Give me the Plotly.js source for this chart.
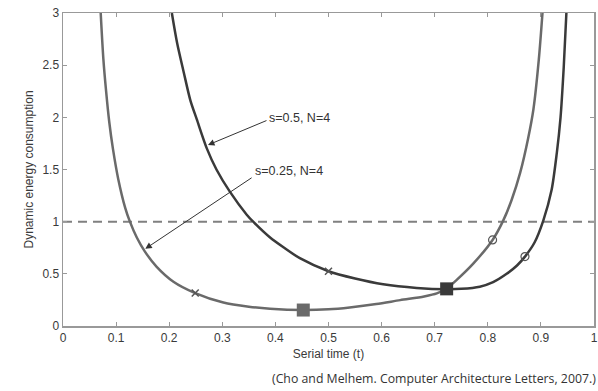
<!DOCTYPE html>
<html>
<head>
<meta charset="utf-8">
<script src="https://cdn.plot.ly/plotly-3.0.1.min.js"></script>
<style>html,body{margin:0;padding:0;background:#fff;}#chart{width:598px;height:391px;}</style>
</head>
<body>
<div id="chart"></div>
<script>
// Curve s=0.25, N=4 (lighter gray)
const tA = [0.071, 0.076, 0.081, 0.087, 0.094, 0.104, 0.117, 0.126, 0.139, 0.154, 0.176, 0.208, 0.249, 0.302, 0.35, 0.39, 0.4525, 0.50, 0.54, 0.59, 0.635, 0.68, 0.704, 0.7225, 0.741, 0.773, 0.809, 0.829, 0.845, 0.861, 0.876, 0.886, 0.896, 0.903];
const eA = [3.0, 2.56, 2.26, 1.96, 1.70, 1.41, 1.135, 1.0, 0.848, 0.715, 0.57, 0.425, 0.316, 0.225, 0.185, 0.165, 0.153, 0.16, 0.178, 0.21, 0.248, 0.283, 0.312, 0.36, 0.44, 0.60, 0.825, 1.01, 1.21, 1.47, 1.80, 2.08, 2.55, 3.0];
// Curve s=0.5, N=4 (dark)
const tB = [0.205, 0.215, 0.227, 0.24, 0.252, 0.271, 0.289, 0.3145, 0.346, 0.36, 0.39, 0.415, 0.446, 0.50, 0.55, 0.603, 0.666, 0.7225, 0.75, 0.785, 0.81, 0.8355, 0.855, 0.87, 0.888, 0.9045, 0.92, 0.93, 0.937, 0.943, 0.948];
const eB = [3.0, 2.71, 2.44, 2.16, 1.98, 1.70, 1.50, 1.285, 1.067, 0.99, 0.848, 0.755, 0.65, 0.525, 0.455, 0.40, 0.365, 0.352, 0.356, 0.377, 0.42, 0.50, 0.58, 0.665, 0.80, 1.01, 1.30, 1.66, 2.0, 2.48, 3.0];
// Marked points
const xMarkT = [0.249, 0.50], xMarkE = [0.316, 0.525];
const oMarkT = [0.809, 0.87], oMarkE = [0.825, 0.665];
const sqAT = [0.4525], sqAE = [0.153];
const sqBT = [0.7225], sqBE = [0.356];
const refT = [0, 1], refE = [1, 1];
const xTicks = [0, 0.1, 0.2, 0.3, 0.4, 0.5, 0.6, 0.7, 0.8, 0.9, 1];
const xTickText = ['0', '0.1', '0.2', '0.3', '0.4', '0.5', '0.6', '0.7', '0.8', '0.9', '1'];
const yTicks = [0, 0.5, 1, 1.5, 2, 2.5, 3];
const yTickText = ['0', '0.5', '1', '1.5', '2', '2.5', '3'];

const colA = '#6a6a6a', colB = '#3a3a3a';
const traces = [
  {x: refT, y: refE, mode: 'lines', line: {color: '#808080', width: 2, dash: '9px,6px'}, hoverinfo: 'skip'},
  {x: tA, y: eA, mode: 'lines', line: {color: colA, width: 2.5, shape: 'spline', smoothing: 0.8}},
  {x: tB, y: eB, mode: 'lines', line: {color: colB, width: 2.5, shape: 'spline', smoothing: 0.8}},
  {x: xMarkT, y: xMarkE, mode: 'markers', marker: {symbol: 'x-thin-open', size: 7, color: '#555', line: {color: '#555', width: 1.5}}},
  {x: oMarkT, y: oMarkE, mode: 'markers', marker: {symbol: 'circle-open', size: 8, color: '#555', line: {color: '#555', width: 1.2}}},
  {x: sqAT, y: sqAE, mode: 'markers', marker: {symbol: 'square', size: 13, color: colA}},
  {x: sqBT, y: sqBE, mode: 'markers', marker: {symbol: 'square', size: 13, color: colB}}
];

const layout = {
  width: 598, height: 391,
  margin: {l: 63, r: 4, t: 13, b: 65},
  paper_bgcolor: '#fff', plot_bgcolor: '#fff',
  showlegend: false,
  font: {family: 'Liberation Sans, Arial, sans-serif', size: 12, color: '#3a3a3a'},
  xaxis: {range: [0, 1], tickvals: xTicks, ticktext: xTickText, ticks: 'inside', ticklen: 4, tickcolor: '#999',
          showline: true, linecolor: '#999', linewidth: 1.5, mirror: 'ticks', showgrid: false, zeroline: false,
          title: {text: 'Serial time (t)', font: {size: 12}, standoff: 5}},
  yaxis: {range: [0, 3], tickvals: yTicks, ticktext: yTickText, ticks: 'inside', ticklen: 4, tickcolor: '#999',
          showline: true, linecolor: '#999', linewidth: 1.5, mirror: 'ticks', showgrid: false, zeroline: false,
          title: {text: 'Dynamic energy consumption', font: {size: 12}, standoff: 6}},
  annotations: [
    {x: 0.273, y: 1.735, ax: 0.386, ay: 1.975, xref: 'x', yref: 'y', axref: 'x', ayref: 'y', text: '',
     showarrow: true, arrowhead: 2, arrowsize: 1.3, arrowwidth: 1, arrowcolor: '#333'},
    {x: 0.155, y: 0.74, ax: 0.358, ay: 1.43, xref: 'x', yref: 'y', axref: 'x', ayref: 'y', text: '',
     showarrow: true, arrowhead: 2, arrowsize: 1.3, arrowwidth: 1, arrowcolor: '#333'},
    {x: 0.385, y: 1.99, xref: 'x', yref: 'y', text: 's=0.5, N=4', showarrow: false, xanchor: 'left', yanchor: 'middle',
     font: {size: 12.5, color: '#333'}},
    {x: 0.358, y: 1.49, xref: 'x', yref: 'y', text: 's=0.25, N=4', showarrow: false, xanchor: 'left', yanchor: 'middle',
     font: {size: 12.5, color: '#333'}},
    {x: 1, y: 0, xref: 'paper', yref: 'paper', xshift: 4, yshift: -52, text: '(Cho and Melhem. Computer Architecture Letters, 2007.)',
     showarrow: false, xanchor: 'right', yanchor: 'middle', font: {family: 'Open Sans, sans-serif', size: 12.3, color: '#333'}}
  ]
};

Plotly.newPlot('chart', traces, layout, {displayModeBar: false, staticPlot: true});
</script>
</body>
</html>
